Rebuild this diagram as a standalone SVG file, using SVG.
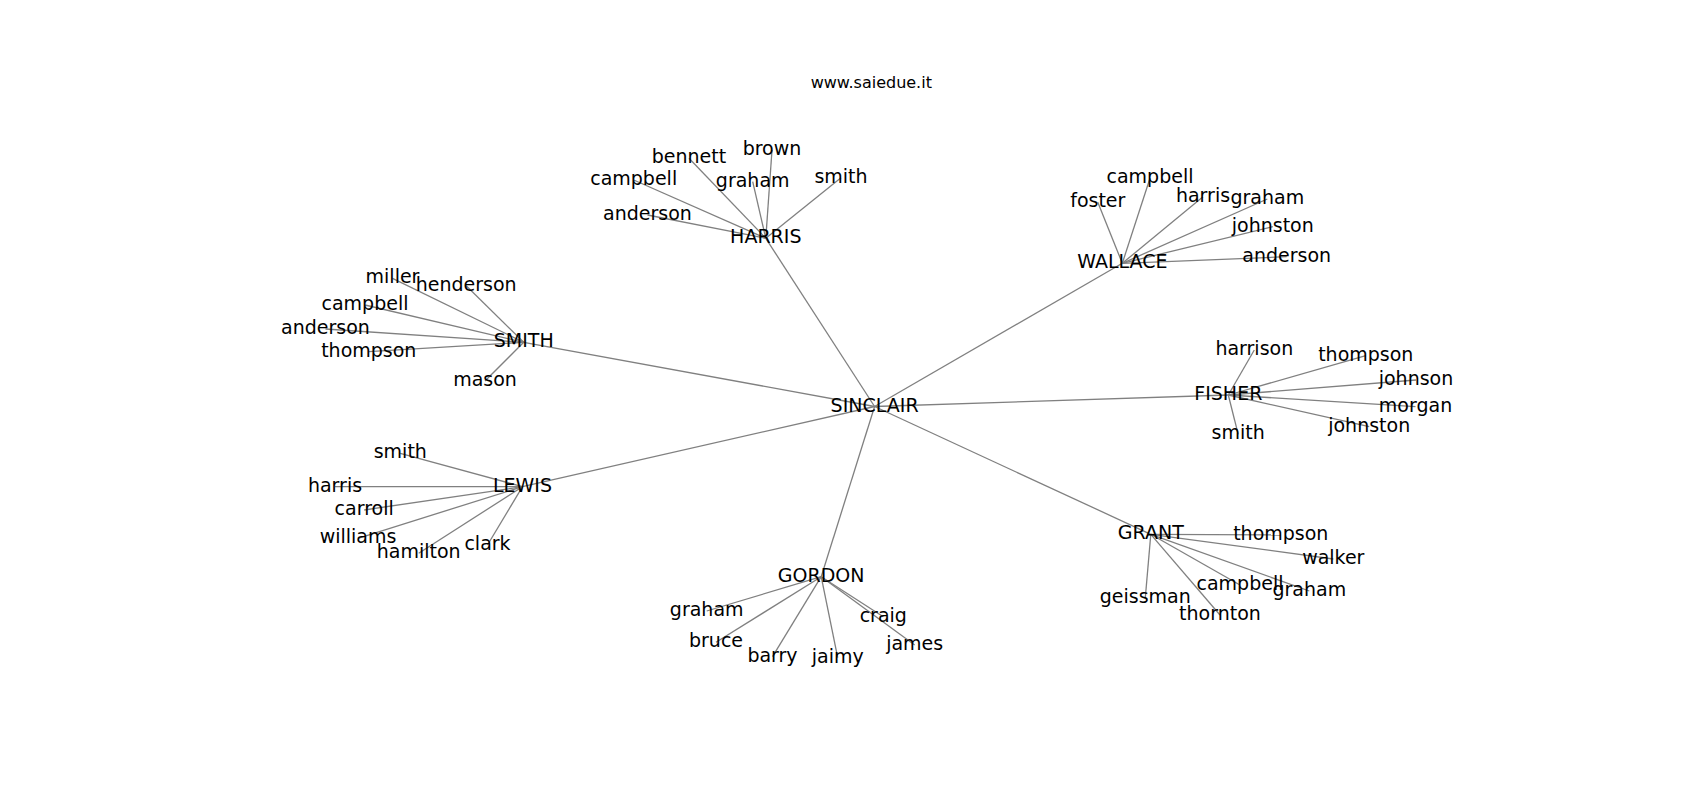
<svg xmlns="http://www.w3.org/2000/svg" width="1700" height="800" viewBox="0 0 1700 800">
<style>
.e{stroke:#808080;stroke-width:1.3;fill:none}
.t{font-family:"DejaVu Sans",sans-serif;font-size:19px;fill:#000;text-anchor:middle}
.title{font-family:"DejaVu Sans",sans-serif;font-size:16px;fill:#000;text-anchor:middle}
</style>
<rect width="1700" height="800" fill="#fff"/>
<text class="title" x="871.3" y="88">www.saiedue.it</text>
<g id="connectors">
<line class="e" x1="874.6" y1="406.5" x2="765.8" y2="238.3"/>
<line class="e" x1="874.6" y1="406.5" x2="1122.3" y2="263.3"/>
<line class="e" x1="874.6" y1="406.5" x2="523.7" y2="342.3"/>
<line class="e" x1="874.6" y1="406.5" x2="1228.3" y2="395"/>
<line class="e" x1="874.6" y1="406.5" x2="522.5" y2="486.7"/>
<line class="e" x1="874.6" y1="406.5" x2="821.2" y2="576.7"/>
<line class="e" x1="874.6" y1="406.5" x2="1150.8" y2="534.3"/>
<line class="e" x1="765.8" y1="238.3" x2="689" y2="158.3"/>
<line class="e" x1="765.8" y1="238.3" x2="772" y2="150"/>
<line class="e" x1="765.8" y1="238.3" x2="633.7" y2="180"/>
<line class="e" x1="765.8" y1="238.3" x2="752.7" y2="181.7"/>
<line class="e" x1="765.8" y1="238.3" x2="841" y2="177.7"/>
<line class="e" x1="765.8" y1="238.3" x2="647.5" y2="215"/>
<line class="e" x1="1122.3" y1="263.3" x2="1150" y2="178.3"/>
<line class="e" x1="1122.3" y1="263.3" x2="1097.8" y2="202.3"/>
<line class="e" x1="1122.3" y1="263.3" x2="1203" y2="196.7"/>
<line class="e" x1="1122.3" y1="263.3" x2="1267.3" y2="199"/>
<line class="e" x1="1122.3" y1="263.3" x2="1272.8" y2="226.7"/>
<line class="e" x1="1122.3" y1="263.3" x2="1286.7" y2="256.7"/>
<line class="e" x1="523.7" y1="342.3" x2="392.5" y2="278.3"/>
<line class="e" x1="523.7" y1="342.3" x2="466.2" y2="285.7"/>
<line class="e" x1="523.7" y1="342.3" x2="365" y2="305"/>
<line class="e" x1="523.7" y1="342.3" x2="325.5" y2="329"/>
<line class="e" x1="523.7" y1="342.3" x2="368.8" y2="351.7"/>
<line class="e" x1="523.7" y1="342.3" x2="485" y2="381"/>
<line class="e" x1="1228.3" y1="395" x2="1254.3" y2="350"/>
<line class="e" x1="1228.3" y1="395" x2="1365.8" y2="355.7"/>
<line class="e" x1="1228.3" y1="395" x2="1416" y2="380"/>
<line class="e" x1="1228.3" y1="395" x2="1415.5" y2="406.7"/>
<line class="e" x1="1228.3" y1="395" x2="1369.2" y2="426.7"/>
<line class="e" x1="1228.3" y1="395" x2="1238.2" y2="434.3"/>
<line class="e" x1="522.5" y1="486.7" x2="400.3" y2="453.3"/>
<line class="e" x1="522.5" y1="486.7" x2="335" y2="486.7"/>
<line class="e" x1="522.5" y1="486.7" x2="364.2" y2="510"/>
<line class="e" x1="522.5" y1="486.7" x2="358" y2="538.3"/>
<line class="e" x1="522.5" y1="486.7" x2="418.7" y2="553.3"/>
<line class="e" x1="522.5" y1="486.7" x2="487.5" y2="545"/>
<line class="e" x1="821.2" y1="576.7" x2="706.7" y2="611"/>
<line class="e" x1="821.2" y1="576.7" x2="716" y2="642.3"/>
<line class="e" x1="821.2" y1="576.7" x2="772.5" y2="656.7"/>
<line class="e" x1="821.2" y1="576.7" x2="837.7" y2="657.7"/>
<line class="e" x1="821.2" y1="576.7" x2="883.3" y2="616.7"/>
<line class="e" x1="821.2" y1="576.7" x2="914.7" y2="645"/>
<line class="e" x1="1150.8" y1="534.3" x2="1280.8" y2="535"/>
<line class="e" x1="1150.8" y1="534.3" x2="1333.3" y2="559"/>
<line class="e" x1="1150.8" y1="534.3" x2="1240" y2="585"/>
<line class="e" x1="1150.8" y1="534.3" x2="1309.3" y2="591"/>
<line class="e" x1="1150.8" y1="534.3" x2="1145.3" y2="597.7"/>
<line class="e" x1="1150.8" y1="534.3" x2="1220" y2="615"/>
</g>
<g id="n-sinclair"><text class="t" x="874.6" y="411.5">SINCLAIR</text></g>
<g id="n-harris"><text class="t" x="765.8" y="243.3">HARRIS</text></g>
<g id="n-wallace"><text class="t" x="1122.3" y="268.3">WALLACE</text></g>
<g id="n-smith"><text class="t" x="523.7" y="347.3">SMITH</text></g>
<g id="n-fisher"><text class="t" x="1228.3" y="400">FISHER</text></g>
<g id="n-lewis"><text class="t" x="522.5" y="491.7">LEWIS</text></g>
<g id="n-gordon"><text class="t" x="821.2" y="581.7">GORDON</text></g>
<g id="n-grant"><text class="t" x="1150.8" y="539.3">GRANT</text></g>
<g id="n-harris-bennett"><text class="t" x="689" y="163.3">bennett</text></g>
<g id="n-harris-brown"><text class="t" x="772" y="155">brown</text></g>
<g id="n-harris-campbell"><text class="t" x="633.7" y="185">campbell</text></g>
<g id="n-harris-graham"><text class="t" x="752.7" y="186.7">graham</text></g>
<g id="n-harris-smith"><text class="t" x="841" y="182.7">smith</text></g>
<g id="n-harris-anderson"><text class="t" x="647.5" y="220">anderson</text></g>
<g id="n-wallace-campbell"><text class="t" x="1150" y="183.3">campbell</text></g>
<g id="n-wallace-foster"><text class="t" x="1097.8" y="207.3">foster</text></g>
<g id="n-wallace-harris"><text class="t" x="1203" y="201.7">harris</text></g>
<g id="n-wallace-graham"><text class="t" x="1267.3" y="204">graham</text></g>
<g id="n-wallace-johnston"><text class="t" x="1272.8" y="231.7">johnston</text></g>
<g id="n-wallace-anderson"><text class="t" x="1286.7" y="261.7">anderson</text></g>
<g id="n-smith-miller"><text class="t" x="392.5" y="283.3">miller</text></g>
<g id="n-smith-henderson"><text class="t" x="466.2" y="290.7">henderson</text></g>
<g id="n-smith-campbell"><text class="t" x="365" y="310">campbell</text></g>
<g id="n-smith-anderson"><text class="t" x="325.5" y="334">anderson</text></g>
<g id="n-smith-thompson"><text class="t" x="368.8" y="356.7">thompson</text></g>
<g id="n-smith-mason"><text class="t" x="485" y="386">mason</text></g>
<g id="n-fisher-harrison"><text class="t" x="1254.3" y="355">harrison</text></g>
<g id="n-fisher-thompson"><text class="t" x="1365.8" y="360.7">thompson</text></g>
<g id="n-fisher-johnson"><text class="t" x="1416" y="385">johnson</text></g>
<g id="n-fisher-morgan"><text class="t" x="1415.5" y="411.7">morgan</text></g>
<g id="n-fisher-johnston"><text class="t" x="1369.2" y="431.7">johnston</text></g>
<g id="n-fisher-smith"><text class="t" x="1238.2" y="439.3">smith</text></g>
<g id="n-lewis-smith"><text class="t" x="400.3" y="458.3">smith</text></g>
<g id="n-lewis-harris"><text class="t" x="335" y="491.7">harris</text></g>
<g id="n-lewis-carroll"><text class="t" x="364.2" y="515">carroll</text></g>
<g id="n-lewis-williams"><text class="t" x="358" y="543.3">williams</text></g>
<g id="n-lewis-hamilton"><text class="t" x="418.7" y="558.3">hamilton</text></g>
<g id="n-lewis-clark"><text class="t" x="487.5" y="550">clark</text></g>
<g id="n-gordon-graham"><text class="t" x="706.7" y="616">graham</text></g>
<g id="n-gordon-bruce"><text class="t" x="716" y="647.3">bruce</text></g>
<g id="n-gordon-barry"><text class="t" x="772.5" y="661.7">barry</text></g>
<g id="n-gordon-jaimy"><text class="t" x="837.7" y="662.7">jaimy</text></g>
<g id="n-gordon-craig"><text class="t" x="883.3" y="621.7">craig</text></g>
<g id="n-gordon-james"><text class="t" x="914.7" y="650">james</text></g>
<g id="n-grant-thompson"><text class="t" x="1280.8" y="540">thompson</text></g>
<g id="n-grant-walker"><text class="t" x="1333.3" y="564">walker</text></g>
<g id="n-grant-campbell"><text class="t" x="1240" y="590">campbell</text></g>
<g id="n-grant-graham"><text class="t" x="1309.3" y="596">graham</text></g>
<g id="n-grant-geissman"><text class="t" x="1145.3" y="602.7">geissman</text></g>
<g id="n-grant-thornton"><text class="t" x="1220" y="620">thornton</text></g>
</svg>
